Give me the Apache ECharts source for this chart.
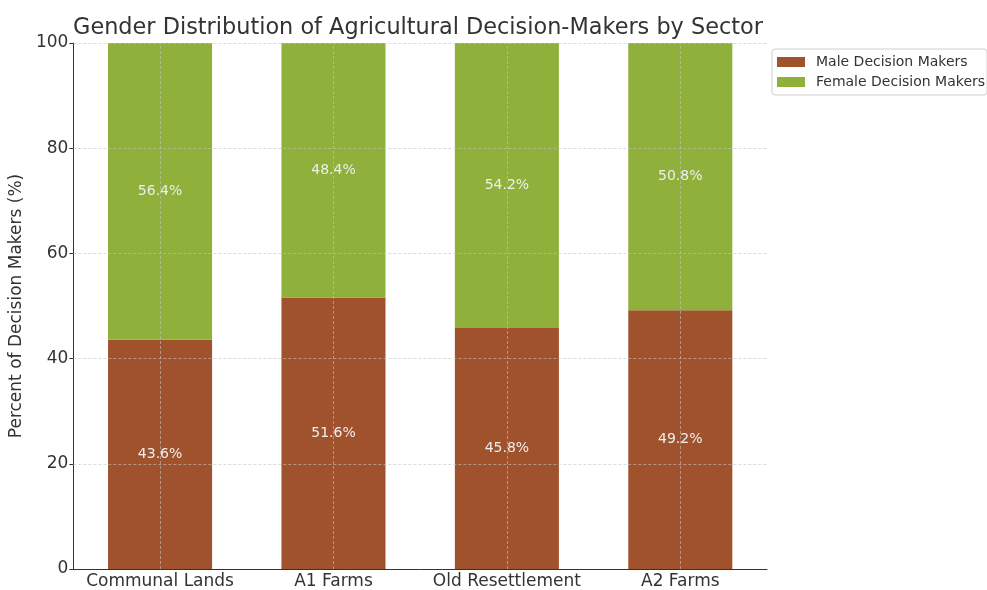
<!DOCTYPE html>
<html><head><meta charset="utf-8">
<script src="https://cdn.jsdelivr.net/npm/echarts@6/dist/echarts.min.js"></script>
<style>html,body{margin:0;padding:0;background:#fff}#c{width:987px;height:590px}</style>
</head><body><div id="c"></div>
<script>
const categories = ["Communal Lands", "A1 Farms", "Old Resettlement", "A2 Farms"];
const maleValues = [43.6, 51.6, 45.8, 49.2];
const femaleValues = [56.4, 48.4, 54.2, 50.8];
const yTicks = [0, 20, 40, 60, 80, 100];

const FONT = "DejaVu Sans";
const gridLine = {color: "rgba(195,195,195,0.6)", type: [3, 2], width: 1};
const chart = echarts.init(document.getElementById("c"), null, {renderer: "canvas"});
chart.setOption({
  animation: false,
  textStyle: {fontFamily: FONT},
  title: {
    text: "Gender Distribution of Agricultural Decision-Makers by Sector",
    left: 413, top: 12, textAlign: "center",
    textStyle: {fontFamily: FONT, fontSize: 22.4, fontWeight: "normal", color: "#333"}
  },
  legend: {
    orient: "vertical", left: 772, top: 49,
    itemWidth: 28, itemHeight: 10, itemGap: 6, icon: "rect",
    padding: [6, 2, 6, 5],
    borderColor: "#d0d0d0", borderWidth: 1, borderRadius: 3,
    textStyle: {fontFamily: FONT, fontSize: 14, color: "#333", padding: [0, 0, 0, 6]},
    data: ["Male Decision Makers", "Female Decision Makers"]
  },
  grid: {left: 70, right: 220, top: 43, bottom: 20, containLabel: false},
  xAxis: {
    type: "category", data: categories,
    axisLine: {lineStyle: {color: "#333", width: 1}},
    axisTick: {alignWithLabel: true, length: 4, lineStyle: {color: "#333"}},
    axisLabel: {fontFamily: FONT, fontSize: 17, color: "#333", margin: 4, interval: 0},
    splitLine: {show: false}
  },
  yAxis: {
    type: "value", min: 0, max: 100, interval: 20,
    name: "Percent of Decision Makers (%)", nameLocation: "middle", nameGap: 43,
    nameTextStyle: {fontFamily: FONT, fontSize: 17, color: "#333"},
    axisLine: {show: true, lineStyle: {color: "#333", width: 1}},
    axisTick: {show: true, length: 4, lineStyle: {color: "#333"}},
    axisLabel: {fontFamily: FONT, fontSize: 17, color: "#333", margin: 5,
      customValues: yTicks},
    splitLine: {show: false}
  },
  series: [
    {
      name: "Male Decision Makers", type: "bar", stack: "total", data: maleValues,
      barWidth: "60%",
      itemStyle: {color: "#A0522D"},
      label: {show: true, position: "inside", formatter: p => p.value.toFixed(1) + "%",
        fontFamily: FONT, fontSize: 14, color: "#eeeeee"}
    },
    {
      name: "Female Decision Makers", type: "bar", stack: "total", data: femaleValues,
      barWidth: "60%",
      itemStyle: {color: "#8FB03A"},
      label: {show: true, position: "inside", formatter: p => p.value.toFixed(1) + "%",
        fontFamily: FONT, fontSize: 14, color: "#eeeeee"},
      markLine: {
        silent: true, symbol: "none", label: {show: false},
        lineStyle: gridLine,
        data: yTicks.filter(v => v > 0).map(v => ({yAxis: v}))
          .concat(categories.map(c => ({xAxis: c})))
      }
    }
  ]
});
</script></body></html>
